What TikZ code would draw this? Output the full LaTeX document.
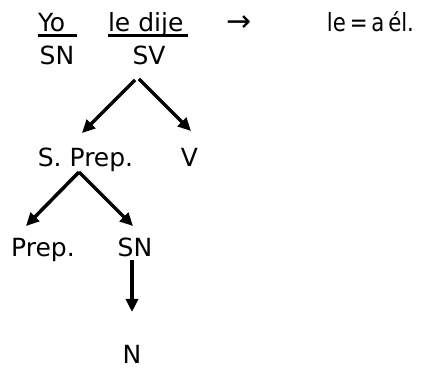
\documentclass[tikz,border=0pt]{standalone}
\usepackage{fontspec}
\setmainfont{DejaVu Sans}
\usetikzlibrary{arrows.meta}
\begin{document}
\begin{tikzpicture}[x=1pt,y=-1pt,
  lbl/.style={inner sep=0pt,outer sep=0pt,font=\fontsize{25}{29}\selectfont},
  branch/.style={line width=3.5pt,-{Triangle[length=13pt,width=12pt]}},
  uline/.style={line width=2.2pt}]
\useasboundingbox (0,0) rectangle (424,369);
% top line
\node[lbl,anchor=base west] (yo) at (38,32) {Yo};
\node[lbl,anchor=base west] (ledije) at (108,32) {le dije};
\node[lbl,font=\fontsize{30}{34}\selectfont,anchor=base] (arr) at (239,32) {→};
\node[lbl,anchor=base east] (rhs) at (414,32) {\scalebox{0.85}[1]{\spaceskip=0.18em le = a él.}};
\draw[uline] (38,35.5) -- (77,35.5);
\draw[uline] (108,35.5) -- (188,35.5);
% tree
\node[lbl,anchor=base] (sn1) at (57,65) {SN};
\node[lbl,anchor=base] (sv) at (149,65) {SV};
\node[lbl,anchor=base] (sprep) at (85.5,167) {S. Prep.};
\node[lbl,anchor=base] (v) at (189.5,167) {V};
\node[lbl,anchor=base] (prep) at (43,257) {Prep.};
\node[lbl,anchor=base] (sn2) at (135,257) {SN};
\node[lbl,anchor=base] (n) at (132,363) {N};
% connector end points
\coordinate (svA) at (135,80);
\coordinate (svB) at (139,79);
\coordinate (spT) at (79,172);
\coordinate (sprepIn) at (82,133);
\coordinate (vIn) at (191,131);
\coordinate (prepIn) at (26,226);
\coordinate (sn2In) at (133,226);
\coordinate (sn2B) at (132,260);
\coordinate (nIn) at (132,312);
\draw[branch] (svA) -- (sprepIn);
\draw[branch] (svB) -- (vIn);
\draw[branch] (spT) -- (prepIn);
\draw[branch] (spT) -- (sn2In);
\draw[branch] (sn2B) -- (nIn);
\end{tikzpicture}
\end{document}
